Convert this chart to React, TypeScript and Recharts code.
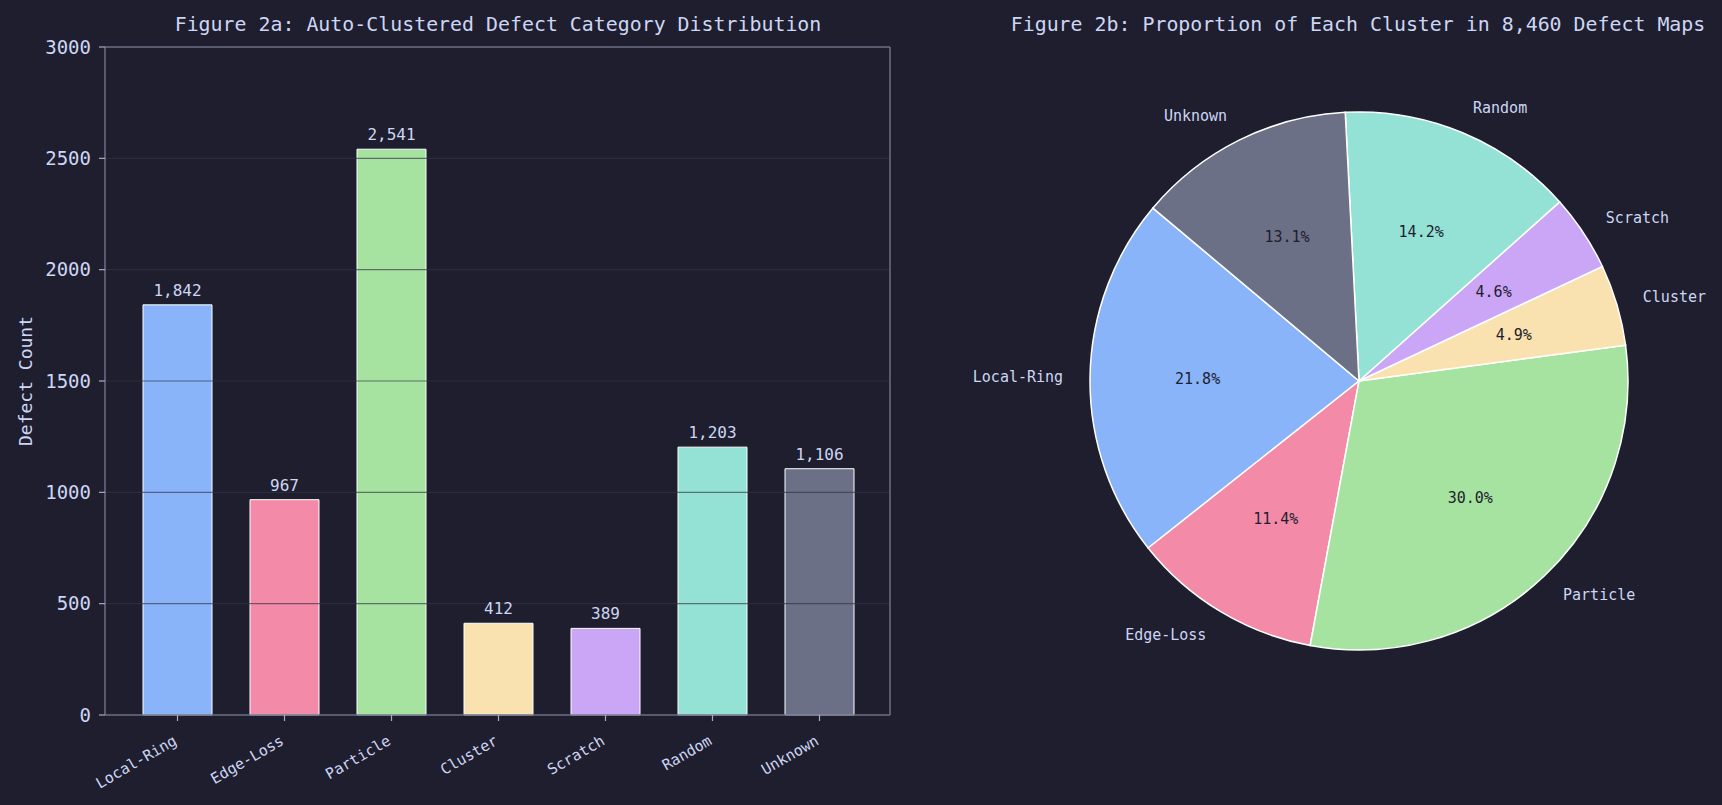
import React from 'react';
import {
  BarChart, Bar, XAxis, YAxis, Cell, LabelList, ReferenceLine, PieChart, Pie,
} from 'recharts';

const categories = ['Local-Ring', 'Edge-Loss', 'Particle', 'Cluster', 'Scratch', 'Random', 'Unknown'];
const counts = [1842, 967, 2541, 412, 389, 1203, 1106];
const colors = ['#89b4fa', '#f38ba8', '#a6e3a1', '#f9e2af', '#cba6f7', '#94e2d5', '#6c7086'];
const yTicks = [0, 500, 1000, 1500, 2000, 2500, 3000];
const barTitle = 'Figure 2a: Auto-Clustered Defect Category Distribution';
const pieTitle = 'Figure 2b: Proportion of Each Cluster in 8,460 Defect Maps';
const yLabel = 'Defect Count';

const data = categories.map((name, i) => ({ name, value: counts[i] }));

const BG = '#1e1e2e';
const TEXT = '#cdd6f4';
const SPINE = '#6c7086';
const FONT = '"DejaVu Sans Mono", monospace';

const XTick = (props: any) => {
  const { x, y, payload } = props;
  return (
    <g transform={`translate(${x},${y})`}>
      <text
        x={0}
        y={0}
        dx={-6}
        dy="0.75em"
        textAnchor="end"
        transform="rotate(-30)"
        fill={TEXT}
        fontSize={15}
        fontFamily={FONT}
      >
        {payload.value}
      </text>
    </g>
  );
};

const RAD = Math.PI / 180;
const renderPieLabel = (props: any) => {
  const { cx, cy, midAngle, outerRadius, percent, name } = props;
  const c = Math.cos(-midAngle * RAD);
  const s = Math.sin(-midAngle * RAD);
  const ox = cx + outerRadius * 1.1 * c;
  const oy = cy + outerRadius * 1.1 * s;
  const ix = cx + outerRadius * 0.6 * c;
  const iy = cy + outerRadius * 0.6 * s;
  return (
    <g>
      <text
        x={ox}
        y={oy}
        textAnchor={c < 0 ? 'end' : 'start'}
        dominantBaseline="central"
        fill={TEXT}
        fontSize={15}
        fontFamily={FONT}
      >
        {name}
      </text>
      <text
        x={ix}
        y={iy}
        textAnchor="middle"
        dominantBaseline="central"
        fill={BG}
        fontSize={15}
        fontFamily={FONT}
      >
        {(percent * 100).toFixed(1) + '%'}
      </text>
    </g>
  );
};

const titleStyle = (cx: number, cy: number): React.CSSProperties => ({
  position: 'absolute',
  left: cx,
  top: cy,
  transform: 'translate(-50%, -50%)',
  whiteSpace: 'pre',
  color: TEXT,
  fontFamily: FONT,
  fontSize: 19.9,
  lineHeight: 1,
});

export default function App() {
  return (
    <div
      style={{
        position: 'absolute',
        left: 0,
        top: 0,
        width: 1722,
        height: 805,
        background: BG,
        overflow: 'hidden',
      }}
    >
      <div style={titleStyle(498, 25)}>{barTitle}</div>
      <div style={titleStyle(1358, 25)}>{pieTitle}</div>

      <div style={{ position: 'absolute', left: 0, top: 0 }}>
        <BarChart
          width={900}
          height={805}
          data={data}
          margin={{ top: 47, right: 0, bottom: 0, left: 0 }}
          barSize={69}
        >
          <XAxis
            dataKey="name"
            height={90}
            padding={{ left: 19, right: 17 }}
            tick={<XTick />}
            tickSize={6}
            tickMargin={10}
            tickLine={{ stroke: '#a6adc8', strokeWidth: 1.2 }}
            axisLine={{ stroke: SPINE, strokeWidth: 1.5 }}
            interval={0}
          />
          <YAxis
            width={105}
            domain={[0, 3000]}
            ticks={yTicks}
            interval={0}
            tickSize={6}
            tickMargin={8}
            tick={{ fill: TEXT, fontSize: 19, fontFamily: FONT }}
            tickLine={{ stroke: '#a6adc8', strokeWidth: 1.2 }}
            axisLine={{ stroke: SPINE, strokeWidth: 1.5 }}
            label={{
              value: yLabel,
              angle: -90,
              position: 'center',
              dx: -26.5,
              fill: TEXT,
              fontSize: 18,
              fontFamily: FONT,
            }}
          />
          <YAxis
            yAxisId="right"
            orientation="right"
            width={10}
            domain={[0, 3000]}
            tick={false}
            tickLine={false}
            axisLine={{ stroke: SPINE, strokeWidth: 1.5 }}
          />
          <Bar dataKey="value" stroke="#ffffff" strokeWidth={1} isAnimationActive={false}>
            {data.map((d, i) => (
              <Cell key={d.name} fill={colors[i]} />
            ))}
            <LabelList
              dataKey="value"
              position="top"
              offset={9}
              formatter={(v: any) => Number(v).toLocaleString('en-US')}
              fill={TEXT}
              fontSize={16}
              fontFamily={FONT}
            />
          </Bar>
          {yTicks.slice(1, -1).map((t) => (
            <ReferenceLine key={t} y={t} stroke="#313244" strokeOpacity={0.65} strokeWidth={1.2} />
          ))}
          <ReferenceLine y={3000} stroke={SPINE} strokeWidth={1.5} />
        </BarChart>
      </div>

      <div style={{ position: 'absolute', left: 900, top: 0 }}>
        <PieChart width={822} height={805} margin={{ top: 0, right: 0, bottom: 0, left: 0 }}>
          <Pie
            data={data}
            dataKey="value"
            nameKey="name"
            cx={459}
            cy={381}
            outerRadius={269}
            startAngle={140}
            endAngle={500}
            stroke="#ffffff"
            strokeWidth={1.5}
            label={renderPieLabel}
            labelLine={false}
            isAnimationActive={false}
          >
            {data.map((d, i) => (
              <Cell key={d.name} fill={colors[i]} />
            ))}
          </Pie>
        </PieChart>
      </div>
    </div>
  );
}
